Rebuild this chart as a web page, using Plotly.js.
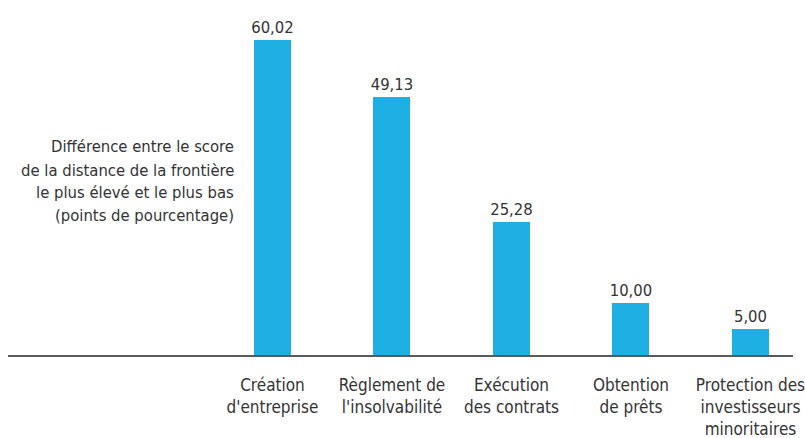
<!DOCTYPE html>
<html>
<head>
<meta charset="utf-8">
<script src="https://cdn.plot.ly/plotly-3.0.1.min.js"></script>
<style>html,body{margin:0;padding:0;background:#fff;}#chart{width:805px;height:438px;}</style>
</head>
<body>
<div id="chart"></div>
<script>
const categories = ["Création<br>d'entreprise", "Règlement de<br>l'insolvabilité", "Exécution<br>des contrats", "Obtention<br>de prêts", "Protection des<br>investisseurs<br>minoritaires"];
const values = [60.02, 49.13, 25.28, 10.00, 5.00];
const valueLabels = ["60,02", "49,13", "25,28", "10,00", "5,00"];
const yTitleLines = ["Différence entre le score", "de la distance de la frontière", "le plus élevé et le plus bas", "(points de pourcentage)"];

const positions = categories.map((c, i) => i);
const FONT = "DejaVu Sans Condensed, sans-serif";

const trace = {
  type: 'bar',
  x: positions,
  y: values,
  width: 0.31,
  marker: {color: '#1fb0e3'},
  text: valueLabels,
  textposition: 'outside',
  constraintext: 'none',
  textfont: {family: FONT, size: 16.5, color: '#333333'},
  cliponaxis: false,
  hoverinfo: 'none'
};

const titleY = [0.621, 0.552, 0.484, 0.415];
const annotations = yTitleLines.map((t, i) => ({
  xref: 'paper', yref: 'paper',
  x: 0.2904, y: titleY[i],
  xanchor: 'right', yanchor: 'middle',
  align: 'right',
  text: t,
  showarrow: false,
  font: {family: FONT, size: 16.5, color: '#333333'}
}));

const layout = {
  width: 805, height: 438,
  margin: {l: 8, r: 12, t: 20, b: 83},
  paper_bgcolor: '#ffffff', plot_bgcolor: '#ffffff',
  showlegend: false,
  bargap: 0,
  xaxis: {
    range: [-2.213, 4.356],
    tickvals: positions,
    ticktext: categories,
    tickfont: {family: FONT, size: 17, color: '#333333'},
    ticklabeloverflow: 'allow',
    ticklabelstandoff: 14,
    showgrid: false, zeroline: false,
    showline: true, linecolor: '#5a5a5a', linewidth: 1.5,
    ticks: '', fixedrange: true
  },
  yaxis: {
    range: [0, 63.9],
    showgrid: false, zeroline: false, showline: false,
    showticklabels: false, ticks: '', fixedrange: true
  },
  annotations: annotations
};

Plotly.newPlot('chart', [trace], layout, {displayModeBar: false, staticPlot: true});
</script>
</body>
</html>
